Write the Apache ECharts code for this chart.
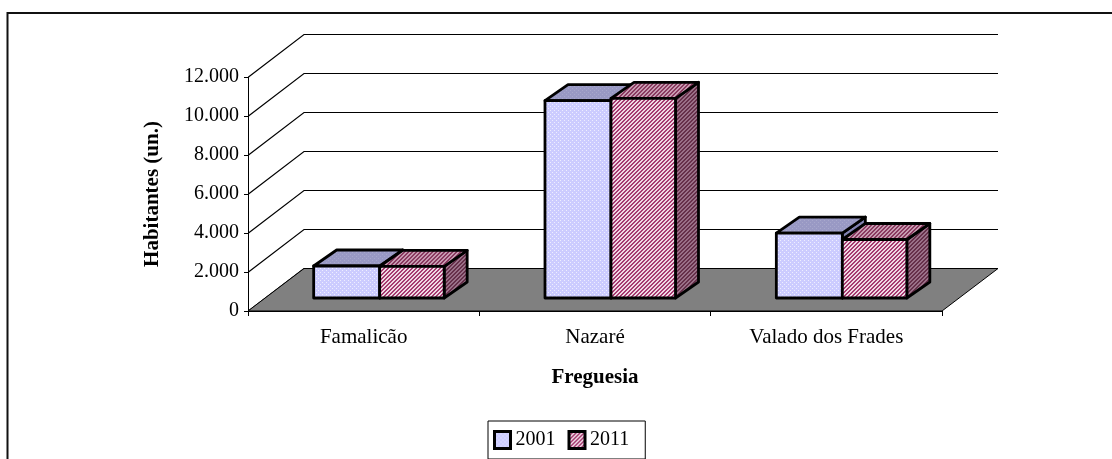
<!DOCTYPE html>
<html><head><meta charset="utf-8">
<style>html,body{margin:0;padding:0;background:#fff}#c{width:1112px;height:459px}</style>
<script src="https://cdn.jsdelivr.net/npm/echarts@6/dist/echarts.min.js"></script>
</head><body><div id="c"></div>
<script>
const categories = ['Famalicão', 'Nazaré', 'Valado dos Frades'];
const values2001 = [1640, 10120, 3330];
const values2011 = [1620, 10240, 3000];
const yTicks = [0, 2000, 4000, 6000, 8000, 10000, 12000];

const FONT = '"Liberation Serif","Times New Roman",serif';
const WALL = [56, -43];
const BAR_OFFSET = [16, -13];
const BAR_DEPTH = [23, -16];
const BAR_W = 66;

function pattern(size, draw) {
  const c = document.createElement('canvas');
  c.width = c.height = size;
  const g = c.getContext('2d');
  draw(g);
  return { image: c, repeat: 'repeat' };
}
function dotted(bg, fg) {
  return pattern(4, g => {
    g.fillStyle = bg; g.fillRect(0, 0, 4, 4);
    g.fillStyle = fg; g.fillRect(0, 0, 1, 1); g.fillRect(2, 2, 1, 1);
  });
}
function diagonal(bg, fg) {
  return pattern(4, g => {
    g.fillStyle = bg; g.fillRect(0, 0, 4, 4);
    g.fillStyle = fg;
    for (let i = 0; i < 4; i++) {
      g.fillRect((3 - i + 4) % 4, i, 1, 1);
      g.fillRect((3 - i + 5) % 4, i, 1, 1);
    }
  });
}
const fills = {
  a: { front: dotted('#ccccff', '#eeeeff'), top: dotted('#9999c4', '#a8a8cc'), side: dotted('#8080b0', '#9090b8') },
  b: { front: diagonal('#f0d8e4', '#a63a70'), top: diagonal('#c79ab0', '#8a3a60'), side: diagonal('#9a7088', '#66304a') }
};
const edge = { stroke: '#000', lineWidth: 2.8, lineJoin: 'round' };

function barRenderer(side, f) {
  return function (params, api) {
    const i = api.value(0), v = api.value(1);
    const p = api.coord([i, v]), b = api.coord([i, 0]);
    const cx = p[0] + BAR_OFFSET[0];
    const x0 = side < 0 ? cx - BAR_W : cx;
    const x1 = side < 0 ? cx : cx + BAR_W - 1.5;
    const yt = p[1] + BAR_OFFSET[1], yb = b[1] + BAR_OFFSET[1];
    const dx = BAR_DEPTH[0], dy = BAR_DEPTH[1];
    const poly = (pts, fill) => ({ type: 'polygon', shape: { points: pts }, style: Object.assign({ fill }, edge) });
    return { type: 'group', children: [
      poly([[x1, yt], [x1 + dx, yt + dy], [x1 + dx, yb + dy], [x1, yb]], f.side),
      poly([[x0, yt], [x0 + dx, yt + dy], [x1 + dx, yt + dy], [x1, yt]], f.top),
      poly([[x0, yt], [x1, yt], [x1, yb], [x0, yb]], f.front)
    ] };
  };
}
function wallRenderer(params, api) {
  const v = api.value(0);
  const a = api.coord([0, v]);
  const left = params.coordSys.x, right = left + params.coordSys.width;
  const back = Math.round(a[1] + WALL[1]) + 0.5;
  return { type: 'polyline', shape: { points: [
    [left + 0.5, a[1]], [left + WALL[0], back], [right + WALL[0], back]
  ] }, style: { fill: 'none', stroke: '#000', lineWidth: 1.2 } };
}
function floorRenderer(params, api) {
  const a = api.coord([0, 0]);
  const left = params.coordSys.x, right = left + params.coordSys.width, y = a[1];
  const back = Math.round(y + WALL[1]) + 0.5;
  return { type: 'polygon', shape: { points: [
    [left, y], [left + WALL[0], back], [right + WALL[0], back], [right, y]
  ] }, style: { fill: '#808080', stroke: '#000', lineWidth: 1 } };
}

const chart = echarts.init(document.getElementById('c'), null, { renderer: 'canvas' });
chart.setOption({
  animation: false,
  backgroundColor: '#fff',
  textStyle: { fontFamily: FONT },
  graphic: [{ type: 'polyline', silent: true, z: -10,
    shape: { points: [[7.5, 460], [7.5, 13], [1113, 13]] },
    style: { fill: 'none', stroke: '#111', lineWidth: 2 } }],
  grid: { left: 248, right: 170, top: 77, bottom: 148 },
  legend: {
    left: 488, top: 421, padding: [9, 16, 9, 5], itemGap: 12,
    itemWidth: 16, itemHeight: 17,
    borderColor: '#000', borderWidth: 1, backgroundColor: '#fff',
    icon: 'rect',
    itemStyle: { borderColor: '#000', borderWidth: 3 },
    textStyle: { fontFamily: FONT, fontSize: 20, color: '#000' },
    data: ['2001', '2011']
  },
  xAxis: {
    type: 'category', data: categories,
    name: 'Freguesia', nameLocation: 'middle', nameGap: 56,
    nameTextStyle: { fontFamily: FONT, fontWeight: 'bold', fontSize: 21, color: '#000' },
    axisLine: { show: true, lineStyle: { color: '#000', width: 1 } },
    axisTick: { show: true, length: 5, alignWithLabel: false, lineStyle: { color: '#000' } },
    axisLabel: { fontFamily: FONT, fontSize: 21, color: '#000', margin: 16 },
    splitLine: { show: false }
  },
  yAxis: {
    type: 'value', min: 0, max: 12000, interval: 2000,
    name: 'Habitantes (un.)', nameLocation: 'middle', nameGap: 85, nameRotate: 90,
    nameTextStyle: { fontFamily: FONT, fontWeight: 'bold', fontSize: 21, color: '#000' },
    axisLine: { show: true, lineStyle: { color: '#000', width: 1 } },
    axisTick: { show: true, length: 4, lineStyle: { color: '#000' } },
    axisLabel: { fontFamily: FONT, fontSize: 20, color: '#000', margin: 9,
      formatter: v => String(v).replace(/\B(?=(\d{3})+$)/g, '.') },
    splitLine: { show: false }
  },
  series: [
    { type: 'custom', name: 'walls', silent: true, z: 1, data: yTicks.map(v => [v]), renderItem: wallRenderer,
      encode: { y: 0 } },
    { type: 'custom', name: 'floor', silent: true, z: 2, data: [[0]], renderItem: floorRenderer, encode: { y: 0 } },
    { type: 'custom', name: '2001', z: 3, itemStyle: { color: fills.a.front, borderColor: '#000', borderWidth: 3 },
      data: categories.map((c, i) => [i, values2001[i]]), renderItem: barRenderer(-1, fills.a), encode: { x: 0, y: 1 } },
    { type: 'custom', name: '2011', z: 4, itemStyle: { color: fills.b.front, borderColor: '#000', borderWidth: 3 },
      data: categories.map((c, i) => [i, values2011[i]]), renderItem: barRenderer(1, fills.b), encode: { x: 0, y: 1 } }
  ]
});
</script></body></html>
